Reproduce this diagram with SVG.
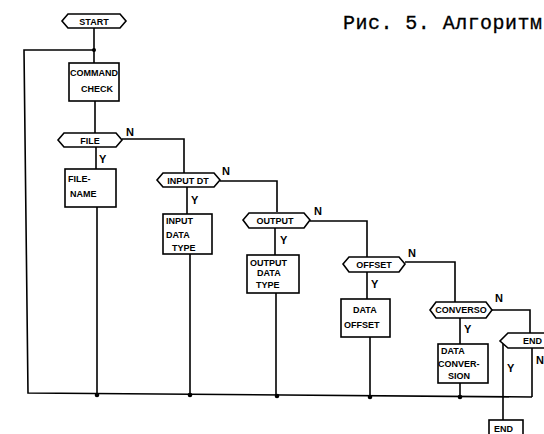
<svg xmlns="http://www.w3.org/2000/svg" width="544" height="434" viewBox="0 0 544 434">
<style>
.s{fill:#fff;stroke:#000;stroke-width:1.6}
.l{fill:none;stroke:#000;stroke-width:1.6}
.t{font-family:"Liberation Sans",Arial,sans-serif;font-weight:bold;font-size:9px;fill:#000}
.yn{font-family:"Liberation Sans",Arial,sans-serif;font-weight:bold;font-size:11px;fill:#000}
.cap{font-family:"Liberation Mono","Courier New",monospace;font-size:20px;fill:#000;stroke:#000;stroke-width:0.3}
</style>
<rect width="544" height="434" fill="#fff"/>
<text class="cap" x="343" y="29" textLength="199" lengthAdjust="spacing">Рис. 5. Алгоритм</text>
<g id="connectors">
<path class="l" d="M94 28V63"/>
<path class="l" d="M94 50H24L28 393L532 397"/>
<path class="l" d="M95 101V133"/>
<path class="l" d="M96 147V169"/>
<path class="l" d="M97 207V395"/>
<path class="l" d="M122 139H184V173"/>
<path class="l" d="M187 187V214"/>
<path class="l" d="M190 254V395"/>
<path class="l" d="M220 181H277V212"/>
<path class="l" d="M275 228V255"/>
<path class="l" d="M276 293V396"/>
<path class="l" d="M310 221H367V257"/>
<path class="l" d="M367 272V299"/>
<path class="l" d="M370 337V397"/>
<path class="l" d="M405 262H455V302"/>
<path class="l" d="M460 318V344"/>
<path class="l" d="M460 383V397"/>
<path class="l" d="M492 310H530V333"/>
<path class="l" d="M532 348V397"/>
<path class="l" d="M503 341V420"/>
<g fill="#000">
<circle cx="94" cy="50" r="2"/>
<circle cx="97" cy="395" r="2.3"/>
<circle cx="190" cy="395" r="2.3"/>
<circle cx="277" cy="396" r="2.3"/>
<circle cx="370" cy="397" r="2.3"/>
<circle cx="460" cy="397" r="2.3"/>
</g>
</g>
<g id="start">
<path class="s" d="M68 14H120L126 21L120 28H68L62 21Z"/>
<text class="t" x="94" y="25" text-anchor="middle">START</text>
</g>
<g id="command-check">
<rect class="s" x="69" y="63" width="50" height="38"/>
<text class="t" x="94" y="76" text-anchor="middle" textLength="48" lengthAdjust="spacingAndGlyphs">COMMAND</text>
<text class="t" x="97" y="92" text-anchor="middle">CHECK</text>
</g>
<g id="file">
<path class="s" d="M64 133H116L122 140L116 147H64L58 140Z"/>
<text class="t" x="90" y="144" text-anchor="middle">FILE</text>
<text class="yn" x="126" y="136">N</text>
<text class="yn" x="99" y="163">Y</text>
</g>
<g id="file-name">
<rect class="s" x="65" y="169" width="51" height="38"/>
<text class="t" x="68" y="182">FILE-</text>
<text class="t" x="70" y="197">NAME</text>
</g>
<g id="input-dt">
<path class="s" d="M163 173H214L220 180L214 187H163L157 180Z"/>
<text class="t" x="188" y="184" text-anchor="middle" font-size="8">INPUT DT</text>
<text class="yn" x="222" y="175">N</text>
<text class="yn" x="191" y="204">Y</text>
</g>
<g id="input-data-type">
<rect class="s" x="163" y="214" width="49" height="40"/>
<text class="t" x="166" y="224">INPUT</text>
<text class="t" x="166" y="238">DATA</text>
<text class="t" x="172" y="251">TYPE</text>
</g>
<g id="output">
<path class="s" d="M249 213H304L310 220L304 228H249L243 220Z"/>
<text class="t" x="275" y="224" text-anchor="middle">OUTPUT</text>
<text class="yn" x="314" y="215">N</text>
<text class="yn" x="280" y="244">Y</text>
</g>
<g id="output-data-type">
<rect class="s" x="247" y="255" width="52" height="38"/>
<text class="t" x="250" y="266">OUTPUT</text>
<text class="t" x="257" y="276">DATA</text>
<text class="t" x="256" y="288">TYPE</text>
</g>
<g id="offset">
<path class="s" d="M349 257H399L405 264L399 272H349L343 264Z"/>
<text class="t" x="374" y="268" text-anchor="middle">OFFSET</text>
<text class="yn" x="408" y="257">N</text>
<text class="yn" x="371" y="288">Y</text>
</g>
<g id="data-offset">
<rect class="s" x="341" y="299" width="49" height="38"/>
<text class="t" x="353" y="313">DATA</text>
<text class="t" x="344" y="328" font-size="8">OFFSET</text>
</g>
<g id="conversion">
<path class="s" d="M436 302H486L492 310L486 318H436L430 310Z"/>
<text class="t" x="461" y="313" text-anchor="middle" font-size="8">CONVERSO</text>
<text class="yn" x="495" y="302">N</text>
<text class="yn" x="464" y="333">Y</text>
</g>
<g id="data-conversion">
<rect class="s" x="438" y="344" width="50" height="39"/>
<text class="t" x="441" y="354">DATA</text>
<text class="t" x="438" y="367" font-size="8">CONVER-</text>
<text class="t" x="448" y="379" font-size="8">SION</text>
</g>
<g id="end-decision">
<path class="s" d="M508 333H560L566 341L560 348H508L500 341Z"/>
<text class="t" x="523" y="344">END</text>
<text class="yn" x="507" y="372">Y</text>
<text class="yn" x="536" y="364">N</text>
</g>
<g id="end">
<rect class="s" x="489" y="420" width="34" height="20"/>
<text class="t" x="494" y="432">END</text>
</g>
</svg>
